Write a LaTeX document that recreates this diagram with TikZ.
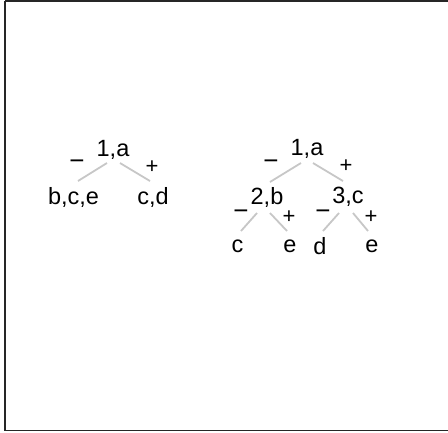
\documentclass[tikz,border=0pt]{standalone}
\usepackage{fontspec}
\setmainfont{Liberation Sans}
\begin{document}
\begin{tikzpicture}[x=1pt,y=-1pt,
  lbl/.style={inner sep=0pt,font=\fontsize{23.5}{23.5}\selectfont},
  sgn/.style={inner sep=0pt,font=\fontsize{22}{22}\selectfont},
  msgn/.style={inner sep=0pt,font=\fontsize{26}{26}\selectfont},
  edge/.style={draw=black!22,line width=1.8pt}]
\useasboundingbox (0,0) rectangle (448,432);
\draw[line width=1.6pt,black!85] (5,1) -- (452,1) (5,1) -- (5,430.5) -- (452,430.5);
% left tree
\node[lbl] (r1) at (113,150) {1,a};
\node[msgn] (m1) at (77,165) {\char"2212};
\node[sgn] (p1) at (152,167) {+};
\node[lbl] (l1) at (73.5,197) {b,c,e};
\node[lbl] (l2) at (153,197) {c,d};
\coordinate (e1a) at (107,163); \coordinate (e1b) at (78,181);
\coordinate (e2a) at (120,163); \coordinate (e2b) at (150,181);
\draw[edge] (e1a) -- (e1b);
\draw[edge] (e2a) -- (e2b);
% right tree
\node[lbl] (r2) at (307,149) {1,a};
\node[msgn] (m2) at (271,165) {\char"2212};
\node[sgn] (p2) at (346,166) {+};
\node[lbl] (n2) at (267,197) {2,b};
\node[lbl] (n3) at (348,197) {3,c};
\coordinate (f1a) at (301,163); \coordinate (f1b) at (270,182);
\coordinate (f2a) at (313,163); \coordinate (f2b) at (343,181);
\draw[edge] (f1a) -- (f1b);
\draw[edge] (f2a) -- (f2b);
\node[msgn] (m3) at (241,215) {\char"2212};
\node[sgn] (p3) at (289,217) {+};
\node[msgn] (m4) at (323,215) {\char"2212};
\node[sgn] (p4) at (371,217) {+};
\coordinate (g1a) at (257,213); \coordinate (g1b) at (241,231);
\coordinate (g2a) at (270,213); \coordinate (g2b) at (287,231);
\coordinate (g3a) at (339,213); \coordinate (g3b) at (323,231);
\coordinate (g4a) at (353,213); \coordinate (g4b) at (368,231);
\draw[edge] (g1a) -- (g1b);
\draw[edge] (g2a) -- (g2b);
\draw[edge] (g3a) -- (g3b);
\draw[edge] (g4a) -- (g4b);
\node[lbl] (c1) at (237.5,246) {c};
\node[lbl] (c2) at (290,246) {e};
\node[lbl] (c3) at (320,246) {d};
\node[lbl] (c4) at (372,246) {e};
\end{tikzpicture}
\end{document}
